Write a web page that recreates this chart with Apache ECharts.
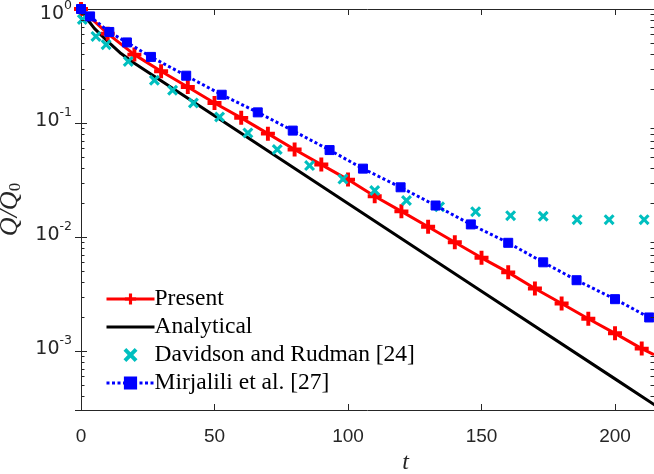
<!DOCTYPE html>
<html><head><meta charset="utf-8">
<script src="https://cdn.jsdelivr.net/npm/echarts@6/dist/echarts.min.js"></script>
<style>html,body{margin:0;padding:0;background:#fff}#c{width:654px;height:474px}</style>
</head><body><div id="c"></div>
<script>
// ---- data ----
const presentT = [0,10,20,30,40,50,60,70,80,90,100,110,120,130,140,150,160,170,180,190,200,210,214.6];
const presentQ = [1.0,0.608,0.398,0.284,0.207,0.150,0.111,0.0807,0.0585,0.0432,0.0319,0.0228,0.0168,0.0123,0.0090,0.00657,0.0049,0.00354,0.00261,0.00192,0.00143,0.00105,0.00093];

const analyticT = [0,2.5,5,10,15,20,30,50,100,150,200,215];
const analyticQ = [1.0,0.805,0.676,0.519,0.407,0.334,0.235,0.1156,0.01968,0.00335,0.000570,0.000335];

const davidsonT = [0.5,5.6,9.4,17.7,27.5,34.3,42.1,51.9,62.5,73.5,85.6,98.1,110.0,121.9,134.3,147.8,160.9,173.1,185.8,197.8,210.9];
const davidsonQ = [0.81,0.575,0.487,0.347,0.237,0.194,0.150,0.113,0.0819,0.0585,0.0423,0.0322,0.0256,0.0209,0.0184,0.0167,0.0154,0.0152,0.0142,0.0142,0.0142];

const mirjaliliT = [0,3.4,10.6,17.2,26.2,39.4,52.7,66.2,79.3,93.1,105.6,119.7,132.8,146.0,160.0,173.1,185.6,200.0,212.8];
const mirjaliliQ = [1.0,0.861,0.629,0.509,0.380,0.260,0.177,0.124,0.0858,0.0579,0.0398,0.0273,0.0189,0.0129,0.0089,0.0060,0.00418,0.00285,0.00197];

const xTicks = [0,50,100,150,200];
const yMinorTicks = [4e-4,5e-4,6e-4,7e-4,8e-4,9e-4,2e-3,3e-3,4e-3,5e-3,6e-3,7e-3,8e-3,9e-3,2e-2,3e-2,4e-2,5e-2,6e-2,7e-2,8e-2,9e-2,2e-1,3e-1,4e-1,5e-1,6e-1,7e-1,8e-1,9e-1];
const seriesNames = ['Present','Analytical','Davidson and Rudman [24]','Mirjalili et al. [27]'];

const xMin = 0, xMax = 214.6, yMin = 3.04e-4, yMax = 1;
const AX = '#262626';
const SERIF = '"Liberation Serif", "DejaVu Serif", serif';
const SANS = '"Liberation Sans", Arial, sans-serif';
const plusPath = 'path://M3.6,0H6.4V3.6H10V6.4H6.4V10H3.6V6.4H0V3.6H3.6Z';
const crossPath = 'path://M0,2L2,0L5,3L8,0L10,2L7,5L10,8L8,10L5,7L2,10L0,8L3,5Z';

const zip = (a, b) => a.map((v, i) => [v, b[i]]);
const presentData = zip(presentT, presentQ).map((p, i) => i === presentT.length - 1 ? {value: p, symbol: 'none'} : p);

const chart = echarts.init(document.getElementById('c'), null, {renderer: 'canvas'});

function yLabel(v) {
  const l = Math.log10(v);
  const e = Math.round(l);
  if (Math.abs(l - e) > 1e-6) return '';
  if (e === 0) return '{gap|}\n{b|10}{s|0}';
  return '{b|10}{s|' + e + '}';
}
function xLabel(v) {
  return xTicks.indexOf(Math.round(v * 1000) / 1000) >= 0 ? String(v) : '';
}

const option = {
  animation: false,
  backgroundColor: '#fff',
  grid: {left: 81, right: 0, top: 9, bottom: 64, containLabel: false, outerBoundsMode: 'none'},
  legend: {
    data: [
      {name: 'Present', lineStyle: {width: 3}},
      {name: 'Analytical', lineStyle: {width: 3}, itemStyle: {color: 'rgba(0,0,0,0)', borderWidth: 0}},
      {name: 'Davidson and Rudman [24]'},
      {name: 'Mirjalili et al. [27]', lineStyle: {width: 3}}
    ],
    orient: 'vertical',
    left: 100, top: 282,
    itemWidth: 48, itemHeight: 14, itemGap: 4,
    textStyle: {fontFamily: SERIF, fontSize: 23.5, color: '#000', lineHeight: 24, padding: [0,0,0,-5]},
    selectedMode: false
  },
  xAxis: [{
    type: 'value', min: xMin, max: xMax, interval: 50,
    name: 't', nameLocation: 'middle', nameGap: 34,
    nameTextStyle: {fontFamily: SERIF, fontStyle: 'italic', fontSize: 24, color: AX, padding: [0, 0, 0, 76]},
    axisLine: {show: true, lineStyle: {color: AX, width: 1}},
    axisTick: {show: true, inside: true, length: 6, lineStyle: {color: AX}},
    axisLabel: {formatter: xLabel, fontFamily: SANS, fontSize: 19, color: AX, margin: 17, showMaxLabel: false},
    splitLine: {show: false}
  }, {
    type: 'value', min: xMin, max: xMax, interval: 50, position: 'top',
    axisLine: {show: true, onZero: false, lineStyle: {color: AX, width: 1}},
    axisTick: {show: true, inside: true, length: 6, lineStyle: {color: AX}},
    axisLabel: {show: false}, splitLine: {show: false}
  }],
  yAxis: [{
    type: 'log', logBase: 10, min: yMin, max: yMax,
    name: '{q|Q/Q}{sub|0}', nameLocation: 'middle', nameGap: 50,
    nameTextStyle: {
      rich: {
        q: {fontFamily: SERIF, fontStyle: 'italic', fontSize: 26, color: AX, lineHeight: 28},
        sub: {fontFamily: SERIF, fontSize: 17, color: AX, verticalAlign: 'bottom', lineHeight: 13}
      }
    },
    axisLine: {show: true, lineStyle: {color: AX, width: 1}},
    axisTick: {show: true, inside: true, length: 6, lineStyle: {color: AX}},
    axisLabel: {
      formatter: yLabel, margin: 9, padding: [0, 0, 4, 0],
      rich: {
        b: {fontFamily: '"DejaVu Sans", sans-serif', fontSize: 19, color: AX, lineHeight: 30},
        s: {fontFamily: '"DejaVu Sans", sans-serif', fontSize: 12.5, color: AX, verticalAlign: 'top', lineHeight: 14},
        gap: {lineHeight: 14, fontSize: 1}
      }
    },
    splitLine: {show: false}, minorTick: {show: false}
  }, {
    type: 'log', logBase: 10, min: yMin, max: yMax, position: 'right',
    axisLine: {show: true, lineStyle: {color: AX, width: 1}},
    axisTick: {show: true, inside: true, length: 6, lineStyle: {color: AX}},
    axisLabel: {show: false}, splitLine: {show: false}
  }],
  series: [
    {
      name: 'Present', type: 'line', data: presentData,
      symbol: plusPath, symbolSize: 14, showAllSymbol: true,
      lineStyle: {color: '#ff0000', width: 3},
      itemStyle: {color: '#ff0000'}, z: 3
    },
    {
      name: 'Analytical', type: 'line', data: zip(analyticT, analyticQ),
      symbol: 'none', lineStyle: {color: '#000', width: 3}, itemStyle: {color: '#000'}, z: 2
    },
    {
      name: 'Davidson and Rudman [24]', type: 'scatter', data: zip(davidsonT, davidsonQ),
      symbol: crossPath, symbolSize: 11,
      itemStyle: {color: '#00bfbf', opacity: 1}, z: 4
    },
    {
      name: 'Mirjalili et al. [27]', type: 'line', data: zip(mirjaliliT, mirjaliliQ),
      symbol: 'rect', symbolSize: 9, showAllSymbol: true,
      lineStyle: {color: '#0000ff', width: 3, type: [3, 2.5]},
      itemStyle: {color: '#0000ff', borderColor: '#0000ff', borderWidth: 1}, z: 5
    },
    {
      name: 'minorTicks', type: 'custom', silent: true, z: 10, clip: false,
      data: yMinorTicks.map(v => [xMin, v]),
      encode: {x: 0, y: 1},
      renderItem: function (params, api) {
        const v = api.value(1);
        const pL = api.coord([xMin, v]);
        const pR = api.coord([xMax, v]);
        const yy = Math.round(pL[1]) + 0.5;
        return {
          type: 'group',
          children: [
            {type: 'line', shape: {x1: pL[0], y1: yy, x2: pL[0] + 3.5, y2: yy}, style: {stroke: AX, lineWidth: 1}},
            {type: 'line', shape: {x1: pR[0] - 3.5, y1: yy, x2: pR[0], y2: yy}, style: {stroke: AX, lineWidth: 1}}
          ]
        };
      }
    }
  ]
};
chart.setOption(option);
</script>
</body></html>
